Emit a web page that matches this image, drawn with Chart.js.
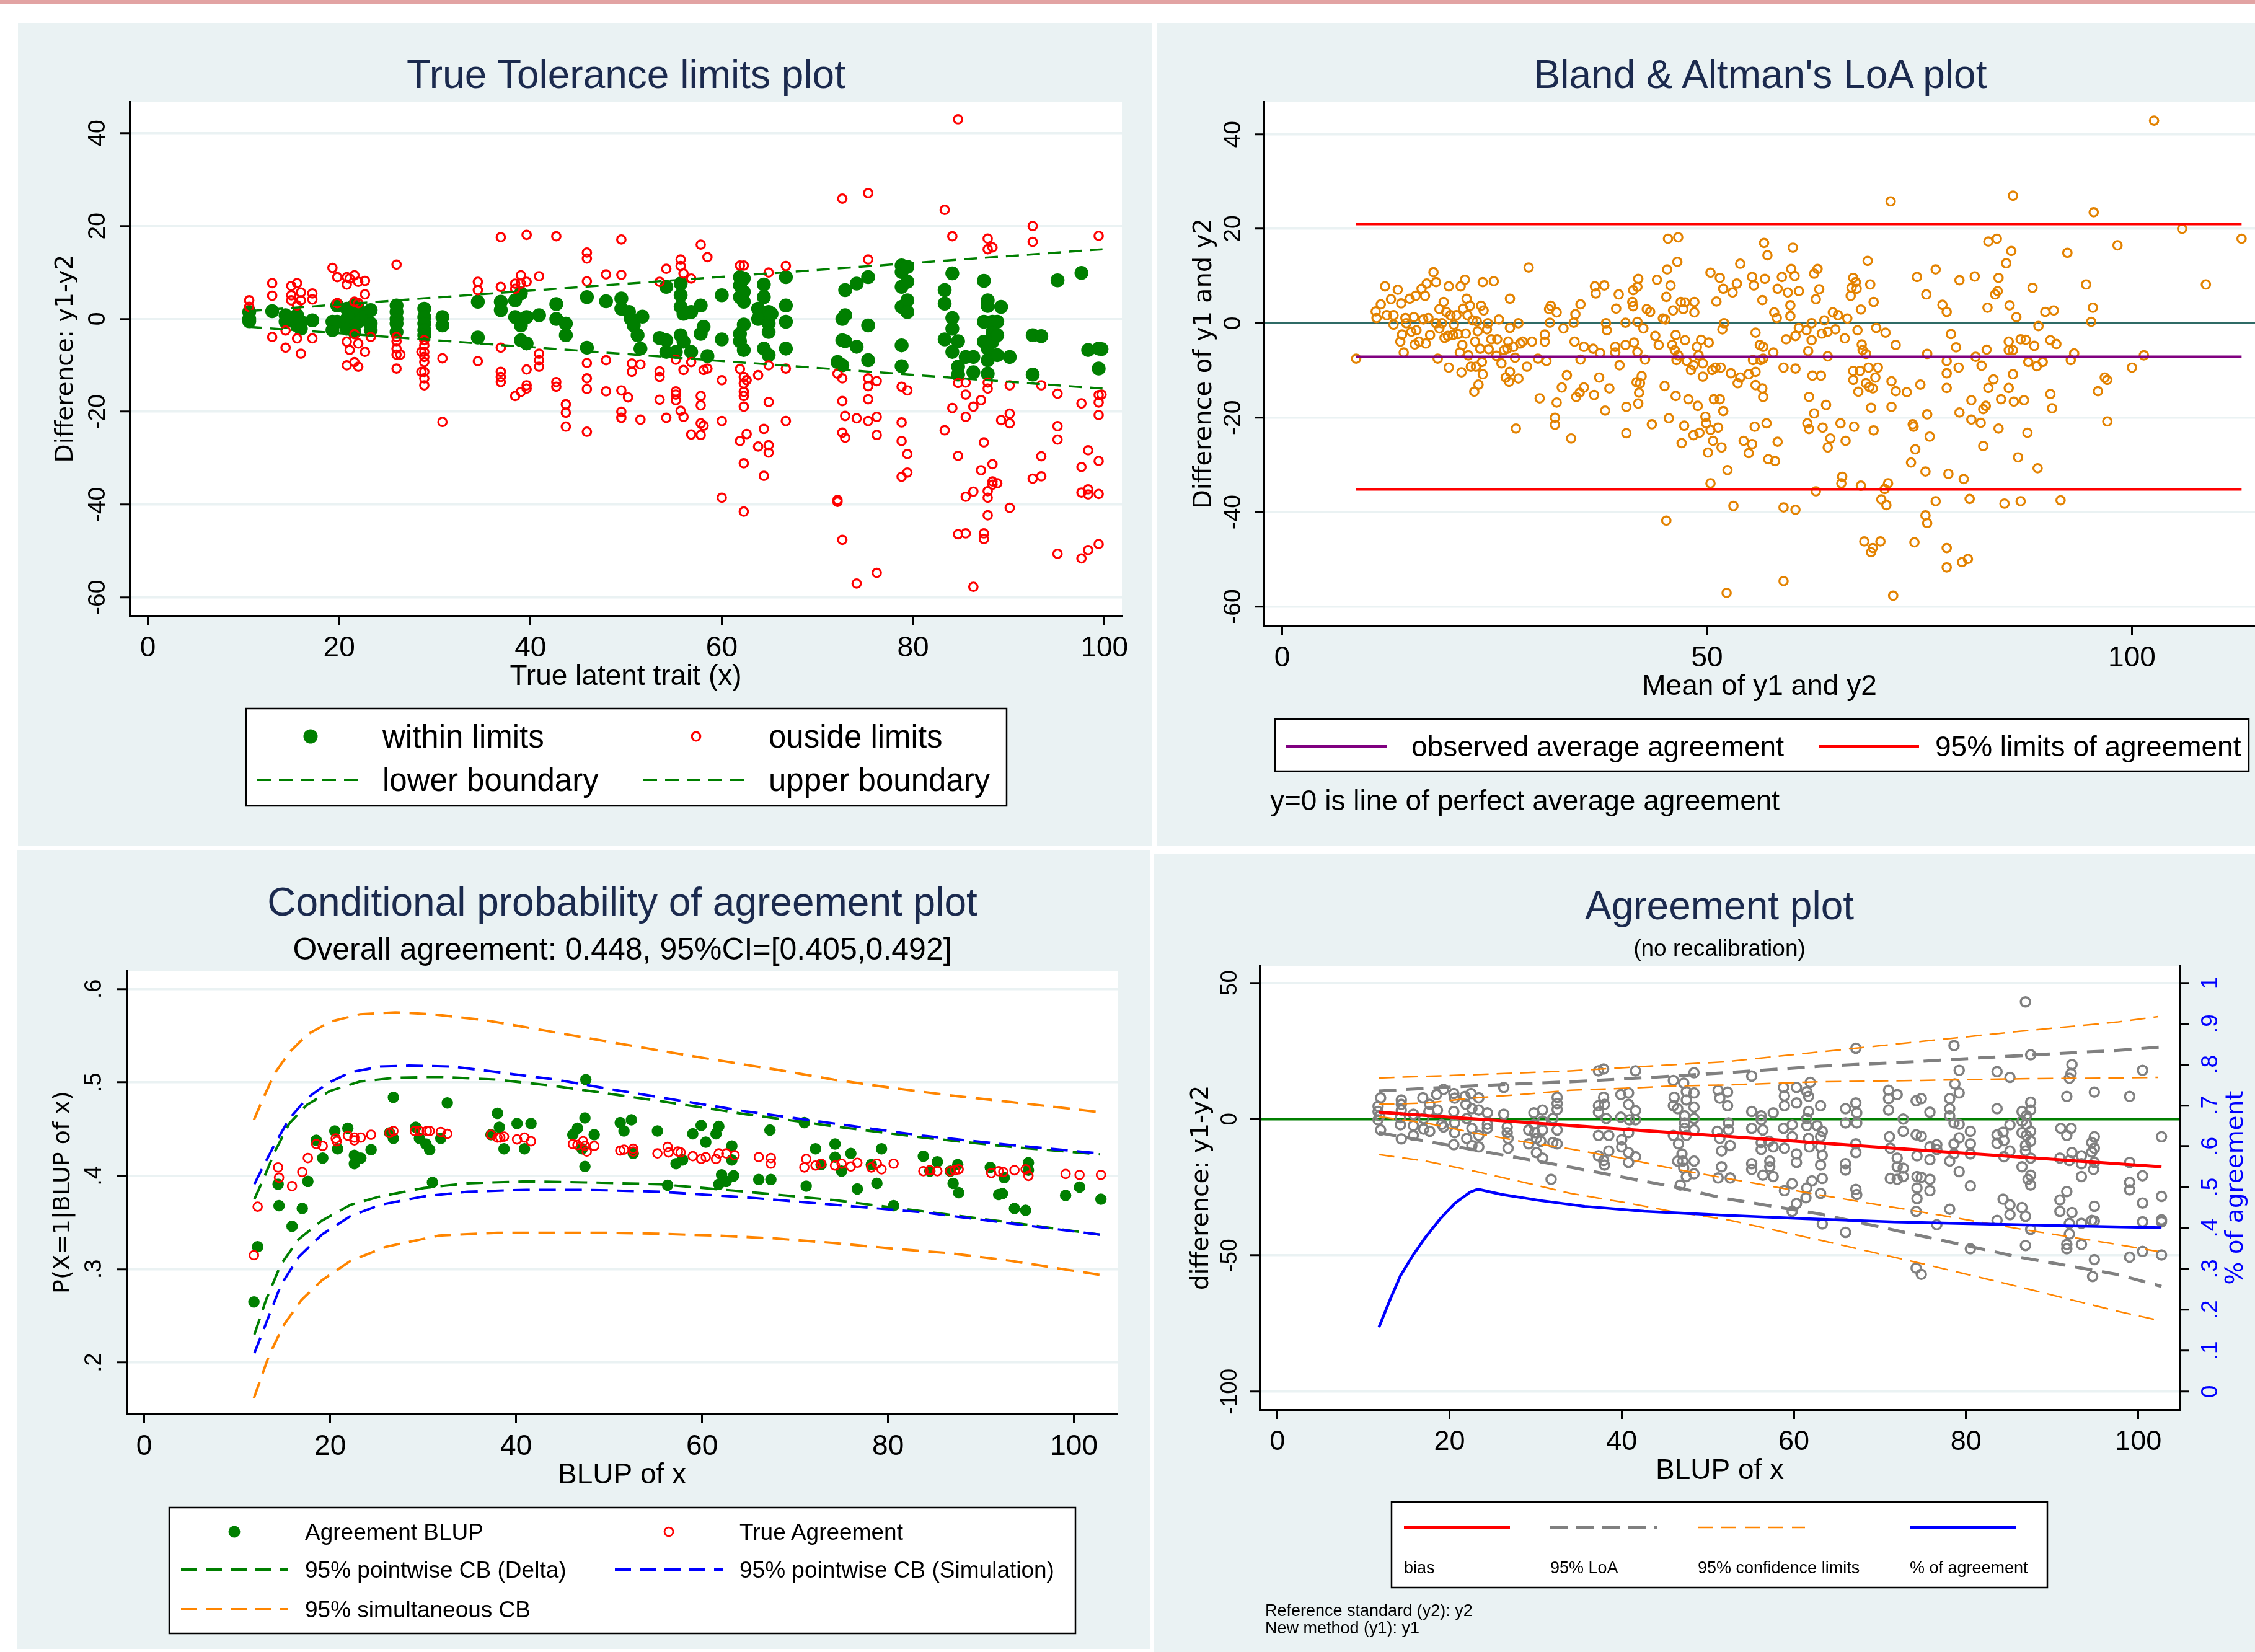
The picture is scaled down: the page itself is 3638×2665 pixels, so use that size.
<!DOCTYPE html>
<html><head><meta charset="utf-8">
<script src="https://cdn.jsdelivr.net/npm/chart.js@4.4.1/dist/chart.umd.min.js"></script>
<style>
html,body{margin:0;padding:0;background:#fff;}
#root{position:relative;width:3638px;height:2665px;overflow:hidden;background:#fff;font-family:"Liberation Sans",Arial,sans-serif;}
.panel{position:absolute;background:#EAF2F3;}
canvas{position:absolute;z-index:1;}
svg{position:absolute;left:0;top:0;z-index:2;}
.t{position:absolute;white-space:nowrap;line-height:1;z-index:5;}
</style></head>
<body><div id="root">
<div style="position:absolute;left:0;top:0;width:3638px;height:7px;background:#E2A3A3"></div>
<div class="panel" style="left:29px;top:37px;width:1829px;height:1327px"></div>
<div class="panel" style="left:1866px;top:37px;width:1772px;height:1327px"></div>
<div class="panel" style="left:28px;top:1372px;width:1828px;height:1288px"></div>
<div class="panel" style="left:1862px;top:1378px;width:1776px;height:1287px"></div>
<canvas id="c1" width="1829" height="1327" style="left:29px;top:37px"></canvas>
<canvas id="c2" width="1772" height="1327" style="left:1866px;top:37px"></canvas>
<canvas id="c3" width="1828" height="1288" style="left:28px;top:1372px"></canvas>
<canvas id="c4" width="1776" height="1287" style="left:1862px;top:1378px"></canvas>
<svg id="lg" width="3638" height="2665" xmlns="http://www.w3.org/2000/svg"></svg>
</div>
<script>
// ---------------- DATA ----------------
// Panel 1: True Tolerance limits plot (x = true latent trait, y = y1-y2)
const tolWithin = [[10.6,1.5],[10.6,0],[10.6,-0.5],[13.0,1.65],[14.4,0.8],[14.4,-0.6],[15.0,0],[15.6,0.8],[15.6,-1.4],[16.0,-0.6],[16.0,-2.1],[17.2,-0.3],[19.3,-0.6],[19.3,-2.4],[19.8,2.9],[19.8,-0.6],[20.8,2.2],[20.8,0],[20.8,-2.1],[21.6,3.0],[21.6,0.8],[21.6,-2.8],[22.0,2.2],[22.0,-0.6],[22.7,0.8],[23.3,1.9],[23.3,-1.0],[23.3,-2.4],[26.0,2.9],[26.0,1.5],[26.0,0],[26.0,-1.0],[26.0,-2.8],[28.9,2.2],[28.9,0.4],[28.9,-1.0],[28.9,-2.4],[28.9,-3.5],[30.8,0.4],[30.8,-1.4],[34.5,3.7],[34.5,-4.0],[36.9,3.7],[36.9,1.9],[38.4,4.0],[38.4,0.4],[39.0,5.5],[39.0,-1.4],[39.0,-4.6],[39.6,0.4],[39.6,-5.3],[40.9,0.8],[42.7,3.2],[42.7,0],[43.7,-1.0],[43.7,-3.5],[45.9,4.7],[45.9,-6.2],[47.9,3.8],[49.5,4.4],[49.5,2.2],[50.3,1.5],[50.5,0],[50.8,-1.4],[51.2,-3.5],[51.5,-6.4],[51.7,0.5],[53.5,-4.1],[54.2,6.9],[54.2,-4.6],[54.2,-7.1],[55.2,-7.1],[55.7,7.6],[55.7,5.1],[55.7,2.6],[55.7,-3.5],[56.0,1.1],[56.0,-4.9],[56.8,1.5],[56.8,-7.1],[57.8,2.9],[57.8,-3.2],[58.1,-1.7],[58.5,-8.0],[60.0,5.1],[60.0,-4.4],[61.9,9.0],[61.9,7.2],[61.9,4.7],[61.9,-3.2],[61.9,-4.8],[62.3,8.7],[62.3,5.8],[62.3,3.7],[62.3,-1.2],[62.3,-6.7],[63.8,2.2],[63.8,0],[64.4,7.4],[64.4,4.7],[64.4,-6.4],[64.9,1.5],[64.9,-1.0],[64.9,-2.8],[64.9,-7.8],[65.2,1.1],[66.7,9.0],[66.7,2.9],[66.7,-0.6],[66.7,-6.4],[72.1,-9.3],[72.6,0],[72.6,-4.6],[72.6,-10.0],[72.9,6.2],[72.9,0.8],[72.9,-4.8],[74.1,7.6],[74.1,-6.0],[75.3,9.0],[75.3,-1.4],[75.3,-8.9],[78.8,11.5],[78.8,10.1],[78.8,6.9],[78.8,2.6],[78.8,-5.7],[78.8,-10.2],[79.4,11.2],[79.4,8.0],[79.4,4.0],[79.4,1.5],[83.3,6.2],[83.3,3.3],[83.3,-4.4],[84.1,9.8],[84.1,0.2],[84.1,-2.1],[84.1,-7.1],[84.7,-4.8],[84.7,-10.3],[84.7,-12.0],[85.5,-8.2],[86.3,-8.2],[86.3,-11.5],[87.4,8.2],[87.4,-0.6],[87.4,-4.9],[87.8,4.0],[87.8,2.8],[87.8,-6.4],[87.8,-8.9],[87.8,-11.8],[88.3,-0.6],[88.3,-2.8],[88.3,-4.9],[88.8,-0.6],[88.8,-3.5],[88.8,-7.8],[89.2,2.6],[90.1,-8.2],[92.5,-3.5],[92.5,-12.0],[93.4,-3.7],[95.1,8.3],[97.6,9.9],[98.3,-6.7],[99.4,-6.4],[99.4,-10.7],[99.7,-6.5]];
const tolOutside = [[10.6,4.0],[10.6,2.6],[13.0,7.7],[13.0,5.0],[13.0,-3.9],[14.4,-2.5],[14.4,-6.2],[15.0,7.1],[15.0,5.1],[15.0,4.0],[15.6,7.7],[15.6,2.9],[15.6,-4.2],[16.0,5.7],[16.0,4.0],[16.0,-7.5],[17.2,5.5],[17.2,4.2],[17.2,-4.2],[19.3,11.0],[19.8,9.0],[19.8,3.4],[20.8,9.0],[20.8,7.4],[20.8,-4.9],[20.8,-10.0],[21.1,8.7],[21.1,-6.7],[21.6,9.4],[21.6,3.7],[21.6,-3.3],[21.6,-9.3],[22.0,8.0],[22.0,3.4],[22.0,-5.3],[22.0,-10.3],[22.7,8.2],[22.7,5.3],[22.7,-7.1],[23.3,-3.9],[26.0,11.7],[26.0,-3.9],[26.0,-4.8],[26.0,-6.4],[26.0,-7.7],[26.0,-10.7],[26.4,-7.7],[28.9,-4.6],[28.9,-5.7],[28.9,-7.1],[28.9,-8.2],[28.9,-9.3],[28.9,-11.4],[28.9,-12.8],[28.9,-14.3],[28.6,-7.1],[28.6,-11.4],[30.8,-8.5],[30.8,-22.2],[34.5,8.0],[34.5,6.2],[34.5,-9.1],[36.9,17.6],[36.9,6.9],[36.9,-6.2],[36.9,-11.4],[36.9,-12.5],[36.9,-13.6],[38.4,7.6],[38.4,6.5],[38.4,-16.6],[39.0,9.4],[39.0,7.6],[39.0,-15.7],[39.6,18.1],[39.6,8.0],[39.6,-10.9],[39.6,-14.3],[39.6,-15.0],[40.9,9.2],[40.9,-7.5],[40.9,-8.9],[40.9,-10.3],[42.7,17.8],[42.7,-13.6],[42.7,-14.6],[43.7,-18.4],[43.7,-20.2],[43.7,-23.2],[45.9,13.0],[45.9,14.3],[45.9,8.1],[45.9,-9.5],[45.9,-12.8],[45.9,-15.1],[45.9,-24.3],[47.9,9.6],[47.9,-8.9],[47.9,-15.6],[49.5,17.1],[49.5,9.5],[49.5,-15.4],[49.5,-20.0],[49.5,-21.3],[50.6,-9.6],[50.6,-11.4],[51.5,-9.8],[50.2,-16.9],[51.5,-21.7],[53.5,8.0],[53.5,-11.3],[53.5,-12.5],[53.5,-17.4],[54.2,10.8],[54.2,-21.3],[55.2,-8.8],[55.2,-15.6],[55.2,-16.3],[55.2,-17.5],[55.7,12.8],[55.7,11.4],[55.7,-19.8],[56.0,9.8],[56.0,-11.0],[56.0,-21.1],[56.8,8.7],[56.8,-9.3],[56.8,-24.9],[57.8,16.0],[57.8,-16.6],[57.8,-18.6],[57.8,-22.5],[57.8,-25.0],[58.1,-11.0],[58.1,-23.0],[58.5,13.3],[58.5,-10.7],[60.0,-13.2],[60.0,-22.0],[60.0,-38.5],[61.9,11.5],[61.9,-10.8],[61.9,-26.3],[62.3,11.5],[62.3,-12.5],[62.3,-13.9],[62.3,-15.7],[62.3,-16.6],[62.3,-18.9],[62.3,-31.1],[62.3,-41.5],[62.6,-13.2],[62.6,-24.8],[63.8,-12.1],[63.8,-27.5],[64.4,-23.7],[64.4,-33.8],[64.9,10.0],[64.9,-10.0],[64.9,-17.9],[64.9,-27.2],[64.9,-28.8],[66.7,11.4],[66.7,-10.7],[66.7,-22.0],[72.1,-11.8],[72.1,-39.0],[72.1,-39.4],[72.6,25.9],[72.6,-12.8],[72.6,-17.7],[72.6,-24.5],[72.6,-47.6],[72.9,-20.9],[72.9,-25.6],[74.1,-21.4],[74.1,-57.0],[75.3,27.1],[75.3,12.8],[75.3,-12.8],[75.3,-14.5],[75.3,-17.3],[75.3,-22.0],[76.2,-13.4],[76.2,-21.1],[76.2,-25.0],[76.2,-54.7],[78.8,-14.6],[78.8,-22.3],[78.8,-26.3],[78.8,-34.0],[79.4,-15.4],[79.4,-29.1],[79.4,-33.1],[83.3,23.5],[83.3,-24.0],[84.1,17.8],[84.1,-19.2],[84.7,43.0],[84.7,-13.8],[84.7,-29.5],[84.7,-46.4],[85.5,-13.7],[85.5,-16.3],[85.5,-21.1],[85.5,-38.3],[85.5,-46.2],[86.3,-18.9],[86.3,-37.2],[86.3,-57.7],[87.1,-17.5],[87.1,-32.6],[87.4,-26.6],[87.4,-46.2],[87.4,-47.4],[87.8,17.3],[87.8,15.0],[87.8,-13.7],[87.8,-15.0],[87.8,-37.1],[87.8,-38.5],[87.8,-42.3],[88.3,15.4],[88.3,-31.3],[88.3,-35.0],[88.3,-35.7],[88.8,-35.4],[89.2,-21.8],[90.1,-14.3],[90.1,-20.4],[90.1,-22.5],[90.1,-40.7],[92.5,20.0],[92.5,16.6],[92.5,-34.4],[93.4,-14.3],[93.4,-29.6],[93.4,-33.9],[95.1,-16.1],[95.1,-23.1],[95.1,-26.0],[95.1,-50.6],[97.6,-18.2],[97.6,-31.9],[97.6,-37.4],[97.6,-51.6],[98.3,-28.3],[98.3,-36.7],[98.3,-37.8],[98.3,-49.8],[99.4,17.9],[99.4,-16.4],[99.4,-18.0],[99.4,-20.7],[99.4,-30.6],[99.4,-37.7],[99.4,-48.5],[99.7,-16.3]];
const lowerBoundary = [[10.6,-1.7],[99.8,-15.0]];
const upperBoundary = [[10.6,1.7],[99.8,15.0]];
const tolXTicks = [0,20,40,60,80,100];
const tolYTicks = [-60,-40,-20,0,20,40];
const tolYLabels = ['-60','-40','-20','0','20','40'];

// Panel 2: Bland & Altman (x = mean of y1,y2 ; y = difference)
const blandPoints = [[8.7,-7.5],[11.0,2.5],[11.1,1.1],[11.6,4.0],[12.1,7.8],[12.3,1.7],[12.8,5.1],[13.1,1.7],[13.1,-0.3],[13.6,7.1],[13.9,-3.9],[14.0,4.2],[14.1,-2.4],[14.3,-6.2],[14.5,1.1],[14.6,0],[15.0,5.2],[15.2,-1.8],[15.5,1.3],[15.6,-4.5],[15.7,5.8],[15.8,-1.5],[16.1,-3.9],[16.4,7.3],[16.6,0.8],[16.8,5.8],[16.9,-4.3],[17.0,8.4],[17.2,1.1],[17.4,-2.5],[17.8,10.8],[18.1,8.7],[18.1,0],[18.3,-7.5],[18.5,-1.1],[18.5,3.0],[18.8,0],[19.0,4.5],[19.1,-3.1],[19.3,2.4],[19.5,-2.7],[19.6,7.8],[19.6,-9.4],[19.8,1.7],[20.1,-2.5],[20.2,-0.3],[20.5,1.7],[20.7,-2.3],[20.9,-6.2],[21.0,7.8],[21.1,-10.4],[21.2,-4.6],[21.3,3.1],[21.5,9.2],[21.6,-2.2],[21.7,5.2],[21.8,1.7],[21.9,-6.8],[22.1,3.7],[22.2,-9.2],[22.4,0.6],[22.6,-14.5],[22.7,-3.9],[22.8,-9.2],[22.9,0.4],[23.0,-1.7],[23.1,-13.0],[23.3,-5.4],[23.4,3.7],[23.5,-8.2],[23.6,8.7],[23.6,-10.8],[23.7,2.7],[24.1,-1.3],[24.2,0],[24.3,-5.5],[24.6,-3.4],[24.9,8.9],[25.2,-6.9],[25.3,-3.4],[25.5,0.8],[25.8,-8.5],[26.1,-5.7],[26.3,-11.5],[26.5,-5.4],[26.6,-3.9],[26.7,-12.4],[26.8,-1.0],[26.8,5.2],[26.8,-10.3],[27.2,-5.0],[27.4,-7.3],[27.5,-22.3],[27.8,-11.7],[27.8,0],[28.0,-4.3],[28.3,-3.9],[28.8,-9.2],[29.0,11.8],[29.4,-3.9],[30.1,-7.5],[30.3,-15.9],[30.9,-3.9],[30.9,-2.4],[31.1,-8.0],[31.4,3.0],[31.5,0.1],[31.6,3.7],[32.3,2.3],[32.3,-16.8],[32.1,-20.0],[32.1,-21.5],[32.9,-13.6],[33.1,-1.1],[33.5,-11.0],[34.0,-24.4],[34.3,0.1],[34.4,-3.9],[34.5,1.9],[34.6,-15.6],[35.0,-14.7],[35.1,-7.7],[35.1,4.0],[35.5,-5.0],[35.5,-13.6],[36.6,-5.4],[36.7,-15.2],[36.8,7.8],[36.9,6.3],[37.4,-6.3],[37.3,-11.5],[37.9,8.0],[38.0,-18.5],[38.1,0],[38.2,-1.5],[38.5,-13.8],[39.2,-6.2],[39.2,-5.0],[39.3,3.1],[39.6,6.1],[39.7,-8.9],[40.4,0.1],[40.4,-4.6],[40.5,-17.7],[40.5,-23.3],[41.2,4.5],[41.3,3.6],[41.4,-4.1],[41.3,7.0],[41.7,-12.5],[41.8,0.3],[41.8,-6.1],[41.8,7.7],[41.9,9.4],[42.0,-14.7],[42.1,-12.7],[41.9,-17.0],[42.3,-11.2],[42.5,-1.1],[42.7,-7.7],[42.9,3.0],[43.3,2.4],[43.5,-21.4],[43.9,-2.7],[44.1,9.2],[44.3,-4.6],[44.8,1.0],[45.0,-13.3],[45.1,0.8],[45.2,5.6],[45.2,-41.8],[45.3,11.4],[45.4,17.9],[45.5,-20.1],[45.7,8.0],[45.9,-4.6],[46.0,2.7],[46.2,-5.7],[46.3,-15.4],[46.3,-2.5],[46.4,-7.8],[46.5,13.0],[46.6,18.2],[46.6,-6.8],[46.9,4.5],[47.0,-25.4],[47.2,3.0],[47.3,-21.7],[47.4,-3.6],[47.4,4.4],[47.6,-8.0],[47.8,-16.1],[48.1,-9.9],[48.4,-23.7],[48.4,-8.9],[48.5,4.5],[48.5,2.3],[48.8,-5.0],[48.9,-17.5],[49.0,-6.8],[49.1,-23.2],[49.3,-3.5],[49.5,-11.3],[49.5,-8.5],[49.8,-19.8],[49.9,-21.2],[50.1,-27.4],[50.2,-4.1],[50.4,10.7],[50.4,-33.9],[50.4,-22.6],[50.6,-9.9],[50.7,-24.9],[50.8,-16.1],[51.0,-9.4],[51.1,4.6],[51.3,-22.1],[51.5,9.6],[51.5,-16.1],[51.6,-9.4],[51.7,-26.3],[51.8,-1.3],[51.9,7.3],[51.9,-18.6],[52.0,0],[52.4,-31.1],[52.3,-57.1],[52.8,-10.6],[53.0,6.5],[53.1,-38.7],[53.5,8.4],[53.6,-12.7],[53.9,12.6],[53.9,-11.5],[54.3,-24.9],[54.9,-27.5],[54.9,-10.8],[55.3,-25.6],[55.3,9.8],[55.4,-7.8],[55.5,8.0],[55.6,-21.9],[55.7,-2.0],[55.7,-13.1],[56.7,17.0],[57.1,14.4],[56.8,9.4],[56.5,4.9],[56.2,-4.6],[56.6,-5.0],[56.3,-7.8],[56.6,-7.5],[55.7,-10.3],[56.5,-13.8],[56.6,-15.6],[57.8,-6.2],[57.9,2.3],[58.2,1.1],[58.3,7.3],[57.0,-21.2],[58.3,-25.1],[57.2,-28.8],[58.0,-29.2],[59.0,-54.6],[59.0,-9.4],[58.8,9.8],[59.3,-3.4],[59.5,6.5],[59.8,1.5],[59.8,3.8],[59.9,11.5],[60.1,16.0],[60.3,10.0],[60.4,-9.6],[60.4,-2.7],[60.4,-39.5],[59.0,-39.0],[60.8,6.8],[60.8,-1.0],[61.7,-1.5],[61.9,-5.9],[62.0,-15.6],[61.8,-21.2],[62.0,-22.4],[62.3,0],[62.3,-3.6],[62.4,-11.1],[62.6,-19.1],[62.8,-35.6],[62.6,10.5],[63.0,11.5],[62.8,5.1],[63.2,7.2],[63.4,-11.1],[63.5,-2.2],[63.6,-22.1],[63.8,0.6],[64.0,-17.3],[64.2,-7.0],[64.2,-26.3],[64.2,-1.8],[64.5,-24.4],[64.8,2.3],[65.1,-1.3],[65.4,1.7],[65.7,-21.2],[65.9,-32.5],[65.8,-33.9],[66.2,-3.2],[66.3,-24.9],[66.5,1.0],[66.9,5.8],[67.0,7.5],[67.2,9.6],[67.2,-10.1],[67.2,-12.0],[67.3,-21.9],[67.5,8.7],[67.6,7.3],[67.7,-1.5],[67.8,-14.5],[68.0,-10.1],[68.1,2.9],[68.1,-34.4],[68.2,-4.5],[68.3,-5.7],[68.5,-46.2],[68.7,-6.5],[68.7,-12.7],[68.9,13.2],[69.0,-9.4],[69.1,-13.5],[69.2,8.2],[69.3,-17.9],[69.3,-48.5],[69.5,-47.6],[69.5,-13.8],[69.6,-22.7],[69.6,4.5],[69.8,-11.5],[69.9,-1.0],[70.1,-9.4],[70.4,-46.2],[70.5,-37.3],[70.9,-35.1],[71.0,-2.0],[71.1,-38.5],[71.3,-33.9],[71.6,25.8],[71.7,-17.7],[71.7,-12.3],[71.9,-57.7],[72.2,-4.6],[72.2,-14.4],[73.5,-14.6],[74.0,-29.5],[74.2,-21.4],[74.3,-21.9],[74.5,-26.7],[74.4,-46.4],[74.7,9.8],[75.1,-13.0],[75.7,-31.4],[75.7,-40.7],[75.9,-42.3],[75.9,-6.5],[75.9,-19.3],[75.8,6.1],[76.2,-24.0],[76.9,11.4],[76.9,-37.7],[77.7,3.9],[78.2,2.4],[78.2,-8.0],[78.2,-10.6],[78.2,-13.7],[78.2,-47.6],[78.2,-51.7],[78.4,-31.9],[78.7,-2.3],[79.3,-5.1],[79.6,-9.4],[79.7,9.1],[79.7,-18.9],[80.0,-50.6],[80.2,-33.0],[80.7,-49.9],[80.9,-37.2],[81.1,-20.4],[81.1,-16.3],[81.5,9.9],[81.6,-7.1],[82.2,-21.1],[82.3,-9.0],[82.5,-18.2],[82.5,-26.0],[82.8,-17.5],[82.9,-5.6],[83.0,3.3],[83.1,17.3],[83.1,-13.7],[83.7,-11.9],[83.9,6.1],[84.1,17.9],[84.2,6.8],[84.3,9.6],[84.3,-22.3],[84.6,-16.1],[85.0,-38.2],[85.2,12.7],[85.5,-3.9],[85.5,-5.7],[85.5,-13.7],[85.6,3.8],[85.8,15.3],[86.0,27.0],[86.0,-5.7],[86.0,-10.8],[86.1,-16.6],[86.4,1.3],[86.6,-28.4],[86.9,-3.4],[86.9,-37.7],[87.3,-16.3],[87.5,-3.5],[87.7,-23.2],[87.8,-8.2],[88.3,7.5],[88.5,-4.8],[88.8,-9.1],[88.9,-30.7],[89.0,-0.6],[89.5,-8.2],[89.8,2.4],[90.4,-3.6],[90.4,-15.0],[90.6,-18.0],[90.8,2.7],[91.1,-4.4],[91.6,-37.5],[92.4,14.9],[92.8,-7.8],[93.2,-6.4],[94.6,8.2],[95.2,0.3],[95.4,3.3],[95.5,23.5],[96.0,-14.4],[96.8,-11.5],[97.1,-12.0],[97.1,-20.8],[98.3,16.5],[100.0,-9.4],[101.4,-6.8],[102.6,42.9],[105.9,20.0],[108.7,8.2],[112.9,17.9]];
const blandLimits = [21.0, -35.2];
const blandBias = -7.1;
const blandSpan = [8.7, 112.9];
const blandXTicks = [0,50,100];
const blandYTicks = [-60,-40,-20,0,20,40];
const blandYLabels = ['-60','-40','-20','0','20','40'];

// Panel 3: Conditional probability of agreement
const blupAgreement = [[11.8,0.265],[12.2,0.324],[14.4,0.391],[14.5,0.368],[15.9,0.346],[17.0,0.365],[17.6,0.394],[18.5,0.438],[19.2,0.419],[20.5,0.448],[20.8,0.429],[21.9,0.451],[22.6,0.422],[22.6,0.413],[23.3,0.419],[24.4,0.428],[26.4,0.446],[26.8,0.484],[26.8,0.440],[29.2,0.452],[29.6,0.440],[30.3,0.434],[30.7,0.428],[31.0,0.393],[31.9,0.440],[32.6,0.478],[37.3,0.444],[38.0,0.467],[38.2,0.452],[38.7,0.429],[40.1,0.456],[40.9,0.429],[41.6,0.456],[46.1,0.444],[46.6,0.451],[47.4,0.462],[47.4,0.410],[47.5,0.503],[48.4,0.444],[47.1,0.429],[51.2,0.457],[51.6,0.448],[52.4,0.460],[52.6,0.424],[55.2,0.448],[57.2,0.413],[57.9,0.417],[59.0,0.445],[59.9,0.454],[60.4,0.436],[61.5,0.445],[61.8,0.453],[62.1,0.401],[61.8,0.391],[62.6,0.394],[63.2,0.432],[63.2,0.417],[63.4,0.400],[56.3,0.390],[66.1,0.396],[67.3,0.449],[67.4,0.396],[71.0,0.457],[71.2,0.389],[72.2,0.429],[72.8,0.412],[74.3,0.434],[74.3,0.420],[75.0,0.405],[76.0,0.424],[76.7,0.386],[78.2,0.412],[78.8,0.392],[79.3,0.429],[80.6,0.368],[83.8,0.421],[85.3,0.415],[84.5,0.405],[87.0,0.392],[87.6,0.382],[87.5,0.412],[86.7,0.405],[91.0,0.409],[91.9,0.380],[92.3,0.381],[92.5,0.398],[93.6,0.365],[94.8,0.363],[95.1,0.414],[95.1,0.406],[99.1,0.379],[100.6,0.388],[102.9,0.375]];
const trueAgreement = [[11.8,0.315],[12.2,0.367],[14.4,0.409],[14.5,0.398],[15.9,0.389],[17.0,0.404],[17.6,0.419],[18.5,0.434],[19.2,0.432],[20.6,0.440],[20.7,0.437],[21.9,0.443],[22.6,0.438],[22.6,0.441],[23.3,0.441],[24.4,0.444],[26.4,0.446],[26.8,0.448],[29.1,0.448],[29.6,0.448],[30.4,0.448],[30.7,0.448],[31.9,0.447],[32.6,0.445],[37.3,0.444],[38.0,0.441],[38.3,0.441],[38.7,0.442],[40.1,0.439],[40.9,0.441],[41.6,0.437],[46.1,0.434],[46.6,0.433],[47.2,0.437],[47.4,0.432],[47.6,0.426],[48.4,0.432],[51.2,0.427],[51.6,0.428],[52.6,0.429],[52.6,0.426],[55.2,0.424],[56.3,0.431],[56.4,0.425],[57.4,0.426],[57.7,0.425],[59.0,0.421],[59.9,0.418],[60.4,0.420],[61.5,0.418],[61.8,0.424],[62.6,0.424],[63.5,0.422],[66.1,0.420],[67.4,0.419],[67.4,0.413],[71.0,0.409],[71.2,0.418],[72.2,0.411],[72.8,0.413],[74.3,0.411],[75.0,0.413],[76.0,0.410],[76.7,0.414],[78.2,0.409],[78.8,0.413],[79.3,0.407],[80.6,0.413],[83.8,0.405],[84.5,0.406],[85.3,0.405],[86.7,0.405],[87.2,0.406],[87.6,0.407],[91.1,0.403],[91.9,0.405],[92.4,0.404],[93.6,0.406],[94.8,0.407],[95.1,0.400],[99.1,0.402],[100.6,0.401],[102.9,0.401]];
const deltaUpper = [[11.85,0.375],[12.8,0.396],[14.05,0.426],[15.6,0.456],[17.5,0.476],[20.0,0.491],[23.2,0.501],[27.0,0.505],[31.7,0.506],[38.0,0.503],[44.3,0.496],[50.6,0.487],[55.5,0.480],[64.7,0.466],[74.2,0.453],[83.7,0.441],[93.2,0.431],[102.8,0.423]];
const deltaLower = [[11.85,0.230],[13.1,0.267],[14.7,0.305],[16.6,0.332],[19.1,0.352],[22.2,0.369],[25.4,0.378],[30.1,0.387],[34.8,0.392],[41.1,0.394],[47.4,0.393],[55.5,0.391],[64.7,0.383],[74.2,0.374],[83.7,0.362],[93.2,0.350],[102.8,0.337]];
const simUpper = [[11.85,0.391],[12.8,0.410],[14.05,0.434],[15.6,0.461],[17.5,0.483],[19.7,0.499],[22.2,0.511],[25.4,0.517],[28.5,0.518],[33.2,0.517],[38.0,0.511],[44.3,0.503],[50.6,0.492],[55.5,0.484],[64.7,0.469],[74.2,0.456],[83.7,0.443],[93.2,0.433],[102.8,0.424]];
const simLower = [[11.85,0.210],[13.1,0.242],[14.7,0.283],[16.6,0.313],[19.1,0.337],[22.2,0.357],[25.4,0.369],[30.1,0.378],[34.8,0.383],[41.1,0.385],[47.4,0.385],[55.5,0.383],[64.7,0.377],[74.2,0.369],[83.7,0.361],[93.2,0.349],[102.8,0.337]];
const simulUpper = [[11.8,0.460],[12.8,0.483],[14.05,0.510],[15.6,0.532],[17.5,0.551],[20.0,0.565],[23.2,0.573],[27.0,0.575],[31.0,0.573],[36.4,0.567],[41.1,0.559],[47.4,0.548],[55.5,0.534],[61.5,0.524],[67.8,0.514],[74.2,0.503],[80.5,0.494],[86.8,0.486],[93.2,0.479],[99.5,0.472],[102.8,0.468]];
const simulLower = [[11.8,0.162],[13.4,0.207],[15.0,0.240],[16.9,0.267],[19.1,0.288],[22.2,0.309],[26.0,0.324],[31.7,0.336],[38.0,0.339],[44.3,0.339],[50.0,0.339],[55.2,0.338],[61.5,0.336],[67.8,0.333],[74.2,0.328],[80.5,0.322],[86.8,0.317],[93.2,0.309],[99.5,0.299],[102.8,0.294]];
const condXTicks = [0,20,40,60,80,100];
const condYTicks = [0.2,0.3,0.4,0.5,0.6];
const condYLabels = ['.2','.3','.4','.5','.6'];

// Panel 4: Agreement plot
const agreePoints = [[12.0,7.8],[11.7,4.7],[11.7,2.8],[11.9,1.2],[11.7,-0.3],[12.0,-4.0],[14.4,7.0],[14.4,5.4],[14.4,3.3],[14.3,0.5],[14.3,-2.1],[14.4,-7.3],[15.8,1.8],[15.8,-2.4],[15.8,-6.0],[16.9,7.8],[17.0,0.2],[17.0,-3.7],[17.7,5.4],[17.6,2.8],[17.7,-4.5],[18.5,9.0],[18.6,3.3],[19.3,10.9],[19.1,-1.9],[19.3,-2.9],[20.5,9.4],[20.5,2.8],[20.6,7.7],[20.6,-1.4],[20.6,-5.0],[20.5,-9.4],[21.8,8.3],[21.9,5.4],[22.0,0.2],[22.0,-7.1],[22.5,9.4],[22.6,3.8],[22.6,-3.4],[22.6,-9.7],[23.4,7.8],[23.4,3.3],[23.4,-6.0],[23.4,-10.2],[24.4,2.3],[24.4,-1.9],[24.4,-3.4],[26.3,11.6],[26.3,1.8],[26.7,-2.9],[26.7,-5.0],[26.8,-7.1],[26.8,-10.7],[29.2,-4.0],[29.2,-9.1],[29.8,2.3],[29.8,-1.9],[29.9,-5.0],[30.1,-7.1],[30.1,-12.3],[30.8,3.3],[30.8,-0.8],[30.8,-4.0],[30.8,-14.3],[30.6,-8.1],[31.8,-22.1],[32.0,0.2],[32.0,-8.6],[32.5,8.0],[32.5,5.7],[32.5,3.5],[32.5,-4.0],[32.5,-9.1],[37.3,17.7],[37.9,18.4],[37.3,2.5],[37.3,4.9],[37.9,8.0],[38.0,5.4],[38.2,0.2],[37.3,-6.0],[38.5,-6.0],[37.3,-13.5],[37.9,-15.2],[38.5,-11.7],[38.0,-16.9],[39.9,9.0],[40.8,9.6],[40.8,5.4],[41.6,3.1],[39.9,0.7],[40.9,-0.3],[41.6,-0.3],[40.8,-5.0],[40.0,-7.6],[40.0,-10.2],[40.8,-12.3],[41.6,17.7],[41.6,-13.8],[40.8,-15.9],[46.0,14.2],[48.4,17.0],[46.1,8.0],[46.0,4.9],[46.5,3.8],[47.2,13.2],[47.5,10.1],[48.4,9.6],[47.5,7.0],[48.4,4.4],[48.4,0.2],[47.3,1.2],[47.3,-1.4],[47.3,-3.4],[48.4,-4.0],[46.0,-6.0],[46.6,-9.1],[47.5,-6.0],[47.0,-12.8],[46.5,-15.4],[47.1,-15.4],[48.4,-15.4],[47.2,-18.0],[48.4,-20.1],[47.5,-21.1],[46.8,-24.2],[51.1,-4.5],[51.2,10.6],[51.4,7.7],[52.3,9.9],[52.3,4.9],[52.4,-1.4],[52.4,-4.0],[51.4,-7.1],[51.6,-11.7],[52.6,-9.7],[51.6,-17.5],[52.6,-21.6],[51.2,-21.6],[55.1,15.8],[55.1,2.8],[55.1,-3.4],[55.1,-16.4],[55.1,-18.5],[56.2,1.2],[56.2,-0.3],[56.4,-4.0],[56.2,-8.6],[56.2,-11.2],[57.1,-8.1],[57.2,-15.4],[57.2,-17.5],[56.4,-20.6],[57.6,-21.1],[57.6,2.3],[57.6,-10.2],[58.8,11.6],[58.9,8.5],[58.9,4.9],[58.8,-3.4],[58.9,-10.7],[58.9,-26.3],[59.8,-2.1],[59.8,-6.5],[59.8,-23.7],[60.3,11.6],[60.3,5.9],[60.3,-12.8],[60.3,-15.9],[60.3,-31.0],[59.8,-33.9],[61.5,10.1],[61.7,8.3],[61.9,13.5],[61.7,2.8],[61.5,0.2],[61.5,-2.4],[61.7,-7.1],[61.8,-10.2],[62.1,-22.7],[61.5,-25.3],[61.4,-28.9],[62.7,-2.4],[63.1,4.9],[63.3,-4.5],[63.1,-6.5],[63.1,-10.2],[63.3,-13.3],[63.1,-16.9],[63.3,-21.8],[63.1,-27.3],[63.3,-38.5],[66.0,3.8],[66.0,-1.4],[66.0,-16.4],[66.0,-18.7],[66.0,-41.6],[67.2,26.0],[67.2,5.9],[67.3,2.3],[67.3,-1.4],[67.2,-9.1],[67.2,-12.3],[67.2,-25.8],[67.3,-27.7],[71.0,10.6],[71.0,7.5],[71.0,3.3],[72.0,9.0],[72.7,0],[72.7,-4.5],[71.1,-6.5],[71.2,-10.7],[72.0,-14.3],[72.0,-17.5],[72.7,-18.0],[72.7,-21.1],[71.2,-21.8],[72.0,-22.1],[74.2,6.7],[74.8,7.5],[74.2,-5.8],[74.8,-6.3],[74.3,-13.5],[74.3,-21.1],[74.8,-21.4],[74.3,-25.3],[74.3,-29.2],[74.2,-33.9],[74.2,-54.7],[74.8,-57.0],[75.8,2.5],[75.8,-10.2],[75.8,-14.9],[75.8,-22.1],[75.8,-26.3],[76.6,-9.4],[76.6,-11.2],[76.6,-38.8],[78.6,27.0],[79.2,17.9],[78.7,12.9],[79.2,9.6],[78.1,7.5],[78.1,3.8],[78.1,1.2],[78.6,-1.4],[79.2,-1.9],[79.2,-6.9],[78.6,-9.1],[78.6,-12.8],[78.1,-15.4],[79.2,-19.3],[78.1,-33.1],[80.5,-4.5],[80.5,-9.1],[80.5,-12.8],[80.5,-24.5],[80.5,-47.6],[83.6,17.4],[85.1,15.3],[83.6,3.8],[85.1,-2.1],[83.6,-5.8],[84.3,-4.8],[83.6,-8.9],[84.4,-7.9],[84.4,-13.8],[85.1,-11.7],[84.3,-29.4],[85.1,-31.5],[85.1,-35.1],[83.6,-37.2],[86.9,43.0],[87.5,23.6],[87.5,6.2],[87.5,3.3],[86.5,2.8],[87.0,1.2],[86.5,-0.8],[87.0,-1.9],[86.5,-5.0],[87.5,-4.5],[87.0,-6.0],[87.5,-8.1],[86.9,-9.7],[86.9,-11.7],[87.5,-14.3],[86.5,-17.5],[87.5,-20.6],[87.2,-22.1],[87.5,-24.2],[86.5,-32.5],[86.9,-35.7],[87.5,-40.5],[86.9,-46.4],[92.3,20.0],[92.2,16.8],[92.0,15.0],[91.7,8.3],[91.0,-3.4],[92.2,-3.4],[91.7,-6.0],[92.3,-12.3],[90.9,-14.3],[92.0,-15.2],[93.4,-13.5],[93.4,-16.4],[93.4,-21.1],[91.7,-26.6],[90.9,-29.7],[90.9,-33.9],[92.3,-34.3],[92.0,-38.3],[93.4,-38.3],[92.0,-42.2],[91.7,-46.0],[91.7,-47.6],[93.4,-46.0],[94.9,9.9],[94.9,-6.5],[94.6,-8.6],[94.9,-10.7],[94.6,-12.1],[94.9,-15.9],[94.8,-18.5],[94.9,-32.0],[94.6,-37.2],[94.9,-37.4],[94.9,-51.6],[94.7,-57.8],[99.0,8.3],[99.0,-15.9],[99.0,-23.2],[99.0,-26.0],[99.0,-50.7],[100.5,17.9],[100.5,-20.8],[100.5,-30.8],[100.5,-37.7],[100.5,-48.6],[102.7,-6.5],[102.7,-28.4],[102.7,-37.0],[102.7,-37.7],[102.7,-49.9]];
const biasLine = [[11.8,2.5],[51.0,-6.1],[76.9,-11.9],[102.7,-17.5]];
const loaUpperLine = [[11.8,10.3],[22.7,12.2],[34.1,13.7],[46.1,15.8],[51.9,17.0],[63.1,19.4],[74.8,21.2],[86.2,23.3],[97.5,25.2],[102.7,26.5]];
const loaLowerLine = [[11.8,-5.0],[22.7,-11.2],[34.1,-17.7],[46.1,-24.9],[51.9,-29.1],[63.1,-34.9],[74.8,-42.9],[86.2,-50.7],[97.5,-57.0],[102.7,-61.4]];
const ciUpperOuter = [[11.8,15.1],[22.7,16.3],[34.1,17.7],[46.1,20.0],[51.9,21.0],[63.1,24.7],[74.8,28.5],[86.2,32.2],[97.5,35.6],[102.3,37.6]];
const ciUpperInner = [[11.8,5.4],[17.2,5.9],[22.7,7.7],[28.2,9.0],[34.1,10.6],[41.0,11.4],[46.1,12.2],[51.9,12.5],[63.1,13.7],[74.8,14.2],[86.2,14.8],[97.5,15.1],[102.3,15.3]];
const ciLowerInner = [[11.8,0.9],[17.2,-1.4],[22.7,-5.0],[28.2,-8.1],[34.1,-11.0],[41.0,-14.9],[46.1,-18.3],[51.9,-21.6],[63.1,-27.9],[74.8,-34.1],[86.2,-40.3],[97.5,-46.0],[102.3,-48.6]];
const ciLowerOuter = [[11.8,-13.0],[17.2,-15.4],[22.7,-19.0],[28.2,-22.9],[34.1,-27.3],[41.0,-31.0],[46.1,-34.1],[51.9,-36.7],[63.1,-44.5],[74.8,-53.0],[86.2,-61.6],[97.5,-70.5],[102.7,-74.1]];
const pctAgreement = [[11.8,0.157],[13.1,0.225],[14.3,0.283],[15.8,0.335],[17.2,0.377],[18.9,0.422],[20.6,0.460],[22.4,0.488],[23.3,0.495],[26.1,0.482],[30.6,0.467],[35.7,0.453],[42.6,0.441],[51.9,0.431],[61.4,0.423],[71.7,0.415],[82.0,0.410],[92.4,0.405],[102.7,0.401]];
const agrXTicks = [0,20,40,60,80,100];
const agrYTicks = [-100,-50,0,50];
const agrYLabels = ['-100','-50','0','50'];
const pctTicks = [0,0.1,0.2,0.3,0.4,0.5,0.6,0.7,0.8,0.9,1];
const pctLabels = ['0','.1','.2','.3','.4','.5','.6','.7','.8','.9','1'];

// ---------------- STYLE / HELPERS ----------------
const LIGHT = 'rgb(234,242,243)';
const GREEN = '#007F00';
const RED = '#FF0000';
const NAVY = '#1B2A4E';
const ORANGE = '#FF8500';
const ORANGE_PT = '#E38200';
const GRAY = '#808080';
const BLUE = '#0000FF';
const PURPLE = '#800080';
const TEAL = '#2F6B66';

Chart.defaults.font.family = '"Liberation Sans", Arial, sans-serif';

function pts(arr){ return arr.map(p => ({x:p[0], y:p[1]})); }

function xAxis(min, max, ticks, title, size){
  return {
    type:'linear', position:'bottom', min:min, max:max,
    afterBuildTicks: s => { s.ticks = ticks.map(v => ({value:v})); },
    afterFit: s => { s.height = 127; },
    grid:{ drawOnChartArea:false, drawTicks:true, tickLength:15, tickColor:'#000', tickWidth:3 },
    border:{ display:true, color:'#000', width:3 },
    ticks:{ autoSkip:false, maxRotation:0, minRotation:0, padding:10.5, color:'#000',
            font:{ family:'"Liberation Sans"', size:size||46, lineHeight:1.2 }, callback: v => String(v) },
    title:{ display:true, text:title, color:'#000', padding:0,
            font:{ family:'"Liberation Sans"', size:46, lineHeight:1.2 } }
  };
}
function yAxis(min, max, ticks, position, onArea, colorFn, widthFn){
  return {
    type:'linear', position:position, min:min, max:max,
    afterBuildTicks: s => { s.ticks = ticks.map(v => ({value:v})); },
    afterFit: s => { s.width = 100; },
    grid:{ drawOnChartArea:onArea, color: colorFn || LIGHT, lineWidth: widthFn || 3.5,
           drawTicks:true, tickLength:15, tickColor:'#000', tickWidth:3 },
    border:{ display:true, color:'#000', width:3 },
    ticks:{ display:false }
  };
}
function decor(axes){
  return {
    id:'decor',
    beforeDraw(chart){
      const c = chart.ctx, a = chart.chartArea;
      c.save(); c.fillStyle = '#ffffff';
      c.fillRect(a.left, a.top, a.right - a.left, a.bottom - a.top);
      c.restore();
    },
    afterDraw(chart){
      const c = chart.ctx, a = chart.chartArea;
      axes.forEach(ax => {
        const sc = chart.scales[ax.id];
        const edge = ax.side === 'left' ? a.left : a.right;
        const dir = ax.side === 'left' ? -1 : 1;
        c.save();
        c.fillStyle = ax.color; c.textAlign = 'center'; c.textBaseline = 'alphabetic';
        c.font = ax.tickSize + 'px "Liberation Sans"';
        ax.values.forEach((v, i) => {
          c.save();
          c.translate(edge + dir * ax.tickOff, sc.getPixelForValue(v));
          c.rotate(-Math.PI / 2);
          c.fillText(ax.labels[i], 0, ax.tickSize * 0.36);
          c.restore();
        });
        c.font = ax.titleSize + 'px "DejaVu Sans"';
        c.translate(edge + dir * ax.titleOff, (a.top + a.bottom) / 2);
        c.rotate(-Math.PI / 2);
        c.fillText(ax.title, 0, ax.titleSize * 0.3);
        c.restore();
      });
    }
  };
}
function lineDS(label, data, color, width, dash, axisId){
  const d = { label:label, data:pts(data), showLine:true, borderColor:color, backgroundColor:color,
              borderWidth:width, borderDash:dash || [], pointRadius:0, pointHoverRadius:0, tension:0, fill:false };
  if (axisId) d.yAxisID = axisId;
  return d;
}
function hollowDS(label, data, color, r, bw){
  return { label:label, data:pts(data), showLine:false, pointStyle:'circle', pointRadius:r, pointHoverRadius:r,
           pointBorderWidth:bw, borderColor:color, pointBorderColor:color,
           backgroundColor:'rgba(0,0,0,0)', pointBackgroundColor:'rgba(0,0,0,0)' };
}
function solidDS(label, data, color, r){
  return { label:label, data:pts(data), showLine:false, pointStyle:'circle', pointRadius:r, pointHoverRadius:r,
           pointBorderWidth:1.5, borderColor:color, pointBorderColor:color,
           backgroundColor:color, pointBackgroundColor:color };
}
function baseOptions(padding, scales){
  return {
    responsive:false, animation:false, devicePixelRatio:1, events:[],
    layout:{ padding:padding, autoPadding:false },
    plugins:{ legend:{display:false}, tooltip:{enabled:false}, title:{display:false} },
    scales:scales
  };
}

// ---------------- PANEL 1 ----------------
new Chart(document.getElementById('c1'), {
  type:'scatter',
  data:{ datasets:[
    lineDS('lower boundary', lowerBoundary, GREEN, 3.5, [21,13]),
    lineDS('upper boundary', upperBoundary, GREEN, 3.5, [21,13]),
    hollowDS('ouside limits', tolOutside, RED, 6.8, 3.2),
    solidDS('within limits', tolWithin, GREEN, 10.5)
  ]},
  options: baseOptions({left:80, top:127, right:48, bottom:244}, {
    x: xAxis(-1.91, 101.83, tolXTicks, 'True latent trait (x)'),
    y: yAxis(-63.9, 46.8, tolYTicks, 'left', true)
  }),
  plugins:[ decor([{ id:'y', side:'left', values:tolYTicks, labels:tolYLabels, color:'#000',
                     tickSize:39, tickOff:54, title:'Difference: y1-y2', titleSize:39, titleOff:104 }]) ]
});

// ---------------- PANEL 2 ----------------
new Chart(document.getElementById('c2'), {
  type:'scatter',
  data:{ datasets:[
    lineDS('observed average agreement', [[blandSpan[0], blandBias],[blandSpan[1], blandBias]], PURPLE, 4),
    lineDS('upper limit', [[blandSpan[0], blandLimits[0]],[blandSpan[1], blandLimits[0]]], RED, 4),
    lineDS('lower limit', [[blandSpan[0], blandLimits[1]],[blandSpan[1], blandLimits[1]]], RED, 4),
    hollowDS('points', blandPoints, ORANGE_PT, 6.8, 3.2)
  ]},
  options: baseOptions({left:73, top:127, right:0, bottom:228}, {
    x: xAxis(-2.16, 114.48, blandXTicks, 'Mean of y1 and y2'),
    y: yAxis(-64.0, 46.92, blandYTicks, 'left', true,
             c => (c.tick && c.tick.value === 0) ? TEAL : LIGHT,
             c => (c.tick && c.tick.value === 0) ? 4 : 3.5)
  }),
  plugins:[ decor([{ id:'y', side:'left', values:blandYTicks, labels:blandYLabels, color:'#000',
                     tickSize:39, tickOff:52, title:'Difference of y1 and y2', titleSize:40, titleOff:97 }]) ]
});

// ---------------- PANEL 3 ----------------
new Chart(document.getElementById('c3'), {
  type:'scatter',
  data:{ datasets:[
    lineDS('95% simultaneous CB upper', simulUpper, ORANGE, 4, [27,15]),
    lineDS('95% simultaneous CB lower', simulLower, ORANGE, 4, [27,15]),
    lineDS('95% pointwise CB (Simulation) upper', simUpper, BLUE, 4, [27,15]),
    lineDS('95% pointwise CB (Simulation) lower', simLower, BLUE, 4, [27,15]),
    lineDS('95% pointwise CB (Delta) upper', deltaUpper, GREEN, 4, [27,15]),
    lineDS('95% pointwise CB (Delta) lower', deltaLower, GREEN, 4, [27,15]),
    hollowDS('True Agreement', trueAgreement, RED, 7, 2.7),
    solidDS('Agreement BLUP', blupAgreement, GREEN, 8.5)
  ]},
  options: baseOptions({left:76, top:194, right:53, bottom:252}, {
    x: xAxis(-1.91, 104.69, condXTicks, 'BLUP of x'),
    y: yAxis(0.145, 0.6196, condYTicks, 'left', true)
  }),
  plugins:[ decor([{ id:'y', side:'left', values:condYTicks, labels:condYLabels, color:'#000',
                     tickSize:38, tickOff:55, title:'P(X=1|BLUP of x)', titleSize:38, titleOff:103 }]) ]
});

// ---------------- PANEL 4 ----------------
new Chart(document.getElementById('c4'), {
  type:'scatter',
  data:{ datasets:[
    lineDS('% of agreement', pctAgreement, BLUE, 4.5, [], 'y2'),
    lineDS('bias', biasLine, RED, 5),
    lineDS('95% LoA upper', loaUpperLine, GRAY, 5, [28,16]),
    lineDS('95% LoA lower', loaLowerLine, GRAY, 5, [28,16]),
    lineDS('95% CL 1', ciUpperOuter, ORANGE, 2.5, [25,13]),
    lineDS('95% CL 2', ciUpperInner, ORANGE, 2.5, [25,13]),
    lineDS('95% CL 3', ciLowerInner, ORANGE, 2.5, [25,13]),
    lineDS('95% CL 4', ciLowerOuter, ORANGE, 2.5, [25,13]),
    hollowDS('differences', agreePoints, GRAY, 7.5, 3.5)
  ]},
  options: baseOptions({left:70, top:180, right:21, bottom:264}, {
    x: xAxis(-2.07, 104.85, agrXTicks, 'BLUP of x', 45),
    y: yAxis(-106.67, 56.28, agrYTicks, 'left', true,
             c => (c.tick && c.tick.value === 0) ? GREEN : LIGHT,
             c => (c.tick && c.tick.value === 0) ? 4.5 : 3.5),
    y2: yAxis(-0.0445, 1.0419, pctTicks, 'right', false)
  }),
  plugins:[ decor([
    { id:'y', side:'left', values:agrYTicks, labels:agrYLabels, color:'#000',
      tickSize:37, tickOff:50, title:'difference: y1-y2', titleSize:39, titleOff:95 },
    { id:'y2', side:'right', values:pctTicks, labels:pctLabels, color:BLUE,
      tickSize:37, tickOff:47, title:'% of agreement', titleSize:39, titleOff:89 }
  ]) ]
});

// ---------------- TITLES / LEGENDS (HTML + SVG) ----------------
const root = document.getElementById('root');
function txt(s, x, y, size, color, align){
  const d = document.createElement('div');
  d.className = 't';
  d.textContent = s;
  d.style.left = x + 'px'; d.style.top = y + 'px';
  d.style.fontSize = size + 'px'; d.style.height = size + 'px';
  d.style.color = color || '#000';
  d.style.transform = align === 'left' ? 'translate(0,-50%)' : 'translate(-50%,-50%)';
  root.appendChild(d);
}
const svg = document.getElementById('lg');
const NS = 'http://www.w3.org/2000/svg';
function el(name, attrs){
  const e = document.createElementNS(NS, name);
  for (const k in attrs) e.setAttribute(k, attrs[k]);
  svg.appendChild(e); return e;
}
function box(x, y, w, h){ el('rect', {x:x, y:y, width:w, height:h, fill:'#fff', stroke:'#000', 'stroke-width':2.5}); }
function seg(x1, x2, y, color, w, dash){
  const a = {x1:x1, x2:x2, y1:y, y2:y, stroke:color, 'stroke-width':w};
  if (dash) a['stroke-dasharray'] = dash;
  el('line', a);
}
function dot(cx, cy, r, color){ el('circle', {cx:cx, cy:cy, r:r, fill:color}); }
function ring(cx, cy, r, color, w){ el('circle', {cx:cx, cy:cy, r:r, fill:'none', stroke:color, 'stroke-width':w}); }

// Titles
txt('True Tolerance limits plot', 1010, 120, 64, NAVY);
txt('Bland & Altman\'s LoA plot', 2840, 120, 64, NAVY);
txt('Conditional probability of agreement plot', 1004, 1455, 64, NAVY);
txt('Overall agreement: 0.448, 95%CI=[0.405,0.492]', 1004, 1531, 50, '#000');
txt('Agreement plot', 2774, 1461, 64, NAVY);
txt('(no recalibration)', 2774, 1529, 37, '#000');

// Panel 1 legend
box(397, 1143, 1227, 157);
dot(501, 1188, 11.5, GREEN);
ring(1123, 1188, 6.8, RED, 3.2);
seg(415, 590, 1258, GREEN, 4, '22 13');
seg(1038, 1213, 1258, GREEN, 4, '22 13');
txt('within limits', 617, 1188, 51, '#000', 'left');
txt('ouside limits', 1240, 1188, 51, '#000', 'left');
txt('lower boundary', 617, 1258, 51, '#000', 'left');
txt('upper boundary', 1240, 1258, 51, '#000', 'left');

// Panel 2 legend
box(2057, 1160, 1571, 84);
seg(2075, 2238, 1204, PURPLE, 4);
seg(2934, 3096, 1204, RED, 4);
txt('observed average agreement', 2277, 1204, 46, '#000', 'left');
txt('95% limits of agreement', 3122, 1204, 46, '#000', 'left');
txt('y=0 is line of perfect average agreement', 2049, 1291, 46, '#000', 'left');

// Panel 3 legend
box(273, 2432, 1462, 203);
dot(378, 2471, 9.5, GREEN);
ring(1079, 2471, 7, RED, 2.7);
seg(292, 465, 2532, GREEN, 4, '26 14');
seg(992, 1166, 2532, BLUE, 4, '26 14');
seg(292, 465, 2596, ORANGE, 4, '26 14');
txt('Agreement BLUP', 492, 2471, 37, '#000', 'left');
txt('True Agreement', 1193, 2471, 37, '#000', 'left');
txt('95% pointwise CB (Delta)', 492, 2532, 37, '#000', 'left');
txt('95% pointwise CB (Simulation)', 1193, 2532, 37, '#000', 'left');
txt('95% simultaneous CB', 492, 2596, 37, '#000', 'left');

// Panel 4 legend
box(2245, 2423, 1058, 138);
seg(2265, 2436, 2464, RED, 5);
seg(2501, 2674, 2464, GRAY, 5, '28 14');
seg(2739, 2912, 2464, ORANGE, 2.5, '24 14');
seg(3081, 3252, 2464, BLUE, 5);
txt('bias', 2265, 2529, 27, '#000', 'left');
txt('95% LoA', 2501, 2529, 27, '#000', 'left');
txt('95% confidence limits', 2739, 2529, 27, '#000', 'left');
txt('% of agreement', 3081, 2529, 27, '#000', 'left');
txt('Reference standard (y2): y2', 2041, 2598, 27, '#000', 'left');
txt('New method (y1): y1', 2041, 2626, 27, '#000', 'left');
</script>
</body></html>
